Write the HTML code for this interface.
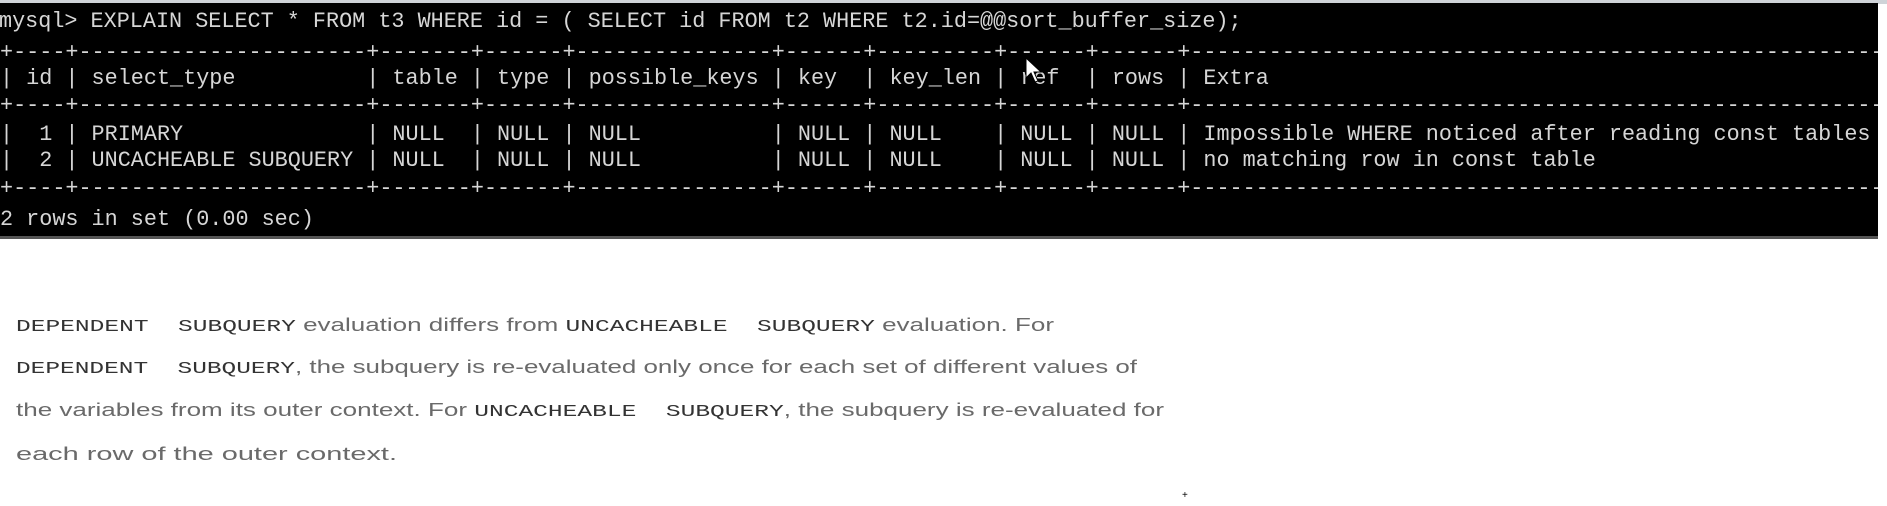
<!DOCTYPE html>
<html><head><meta charset="utf-8"><style>
html,body{margin:0;padding:0;background:#fff;width:1887px;height:506px;overflow:hidden;position:relative}
#top{position:absolute;left:0;top:0;width:1887px;height:4px;background:#cfd3d8}
#term{position:absolute;left:0;top:3px;width:1878px;height:233px;background:#000;border-bottom:3px solid #555;overflow:hidden}
#term pre{position:absolute;left:0;margin:0;font-family:"Liberation Mono",monospace;font-size:21.8px;letter-spacing:0;color:#d6d6d6;line-height:22px;white-space:pre}
.d{color:#bbb}
.p{position:absolute;left:16px;white-space:pre;font-family:"Liberation Sans",sans-serif;font-size:18px;color:#6a6a6a;transform-origin:0 0;line-height:22px}
.m{font-family:"Liberation Mono",monospace;color:#333;font-size:17px}
</style></head><body>
<div id="top"></div>
<div id="term">
<pre style="top:8px;left:-1px">mysql&gt; EXPLAIN SELECT * FROM t3 WHERE id = ( SELECT id FROM t2 WHERE t2.id=@@sort_buffer_size);</pre>
<pre class="d" style="top:39px">+----+----------------------+-------+------+---------------+------+---------+------+------+------------------------------------------------------</pre>
<pre style="top:65px">| id | select_type          | table | type | possible_keys | key  | key_len | ref  | rows | Extra</pre>
<pre class="d" style="top:92px">+----+----------------------+-------+------+---------------+------+---------+------+------+------------------------------------------------------</pre>
<pre style="top:121px">|  1 | PRIMARY              | NULL  | NULL | NULL          | NULL | NULL    | NULL | NULL | Impossible WHERE noticed after reading const tables</pre>
<pre style="top:147px">|  2 | UNCACHEABLE SUBQUERY | NULL  | NULL | NULL          | NULL | NULL    | NULL | NULL | no matching row in const table</pre>
<pre class="d" style="top:175px">+----+----------------------+-------+------+---------------+------+---------+------+------+------------------------------------------------------</pre>
<pre style="top:206px">2 rows in set (0.00 sec)</pre>
<svg style="position:absolute;left:1024px;top:53px" width="24" height="30"><path d="M2 2 L2 22 L7 17 L11 26 L14 25 L10 16 L17 16 Z" fill="#fff" stroke="#000" stroke-width="1"/></svg>
</div>
<div class="p" data-w="1038" style="top:314px"><span class="m">DEPENDENT  SUBQUERY</span> evaluation differs from <span class="m">UNCACHEABLE  SUBQUERY</span> evaluation. For</div>
<div class="p" data-w="1121" style="top:356px"><span class="m">DEPENDENT  SUBQUERY</span>, the subquery is re-evaluated only once for each set of different values of</div>
<div class="p" data-w="1148" style="top:399px">the variables from its outer context. For <span class="m">UNCACHEABLE  SUBQUERY</span>, the subquery is re-evaluated for</div>
<div class="p" data-w="381" style="top:443px">each row of the outer context.</div>
<div style="position:absolute;left:1182px;top:490px;font:10px 'Liberation Sans',sans-serif;color:#000">+</div>
<script>
document.querySelectorAll('.p').forEach(function(e){var w=+e.getAttribute('data-w');var r=e.getBoundingClientRect().width;if(r>0)e.style.transform='scaleX('+(w/r)+')';});
</script>
</body></html>
